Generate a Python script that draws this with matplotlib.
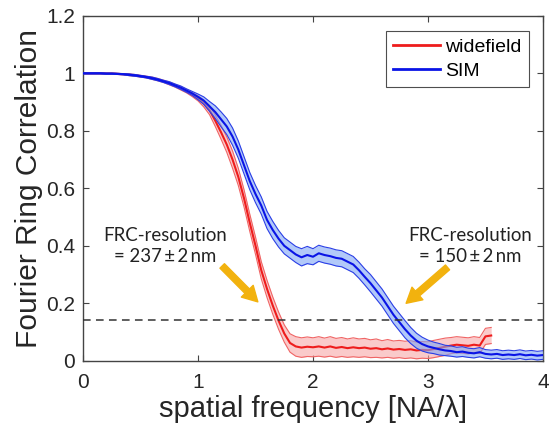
import numpy as np
import matplotlib
matplotlib.use("Agg")
import matplotlib.pyplot as plt

plt.rcParams['font.family'] = ['Liberation Sans', 'DejaVu Sans']

# spatial frequency sampling [NA/lambda]
freq_sim = np.linspace(0, 4.0, 81)
freq_wf = freq_sim[:72]  # widefield curve ends at 3.55

wf_mean = [1.000, 1.000, 1.000, 1.000, 0.999, 0.999, 0.998, 0.997, 0.995, 0.993,
           0.990, 0.987, 0.983, 0.978, 0.972, 0.965, 0.957, 0.948, 0.938, 0.926,
           0.913, 0.895, 0.872, 0.835, 0.795, 0.752, 0.700, 0.640, 0.565, 0.480,
           0.400, 0.315, 0.250, 0.192, 0.140, 0.095, 0.062, 0.050, 0.046, 0.049,
           0.047, 0.050, 0.046, 0.050, 0.045, 0.048, 0.044, 0.047, 0.044, 0.046,
           0.042, 0.044, 0.040, 0.043, 0.039, 0.041, 0.038, 0.040, 0.036, 0.038,
           0.037, 0.041, 0.045, 0.049, 0.053, 0.056, 0.054, 0.052, 0.056, 0.053,
           0.085, 0.088]
wf_hw = [0.002, 0.002, 0.002, 0.002, 0.002, 0.002, 0.002, 0.002, 0.003, 0.003,
         0.003, 0.003, 0.004, 0.004, 0.004, 0.005, 0.005, 0.006, 0.006, 0.007,
         0.009, 0.012, 0.016, 0.020, 0.024, 0.027, 0.030, 0.030, 0.030, 0.030,
         0.030, 0.030, 0.030, 0.030, 0.030, 0.030, 0.032, 0.034, 0.034, 0.034,
         0.033, 0.034, 0.033, 0.034, 0.033, 0.033, 0.032, 0.033, 0.032, 0.032,
         0.031, 0.032, 0.030, 0.031, 0.030, 0.030, 0.030, 0.030, 0.029, 0.029,
         0.029, 0.030, 0.030, 0.030, 0.028, 0.028, 0.028, 0.028, 0.028, 0.028,
         0.028, 0.028]

sim_mean = [1.000, 1.000, 1.000, 1.000, 0.999, 0.999, 0.998, 0.997, 0.995, 0.993,
            0.990, 0.987, 0.983, 0.978, 0.972, 0.966, 0.958, 0.950, 0.940, 0.930,
            0.918, 0.905, 0.885, 0.865, 0.840, 0.815, 0.780, 0.735, 0.680, 0.625,
            0.580, 0.540, 0.490, 0.455, 0.425, 0.400, 0.385, 0.370, 0.360, 0.368,
            0.362, 0.374, 0.368, 0.364, 0.358, 0.355, 0.345, 0.335, 0.315, 0.292,
            0.270, 0.245, 0.220, 0.190, 0.160, 0.135, 0.110, 0.088, 0.070, 0.058,
            0.050, 0.045, 0.040, 0.036, 0.034, 0.030, 0.032, 0.028, 0.026, 0.030,
            0.024, 0.022, 0.024, 0.020, 0.022, 0.020, 0.023, 0.019, 0.021, 0.018,
            0.020]
sim_hw = [0.002, 0.002, 0.002, 0.002, 0.002, 0.002, 0.002, 0.002, 0.003, 0.003,
          0.003, 0.003, 0.004, 0.004, 0.004, 0.005, 0.005, 0.006, 0.006, 0.007,
          0.010, 0.013, 0.017, 0.022, 0.026, 0.028, 0.030, 0.030, 0.030, 0.030,
          0.030, 0.030, 0.030, 0.030, 0.029, 0.028, 0.028, 0.028, 0.030, 0.030,
          0.028, 0.028, 0.028, 0.028, 0.028, 0.028, 0.028, 0.028, 0.028, 0.028,
          0.030, 0.030, 0.030, 0.030, 0.030, 0.030, 0.030, 0.028, 0.026, 0.024,
          0.022, 0.020, 0.020, 0.018, 0.018, 0.017, 0.017, 0.016, 0.016, 0.016,
          0.015, 0.015, 0.015, 0.015, 0.015, 0.015, 0.015, 0.015, 0.015, 0.015,
          0.015]

threshold = 1 / 7
wf_label = "FRC-resolution\n= 237\u2009±\u20092\u2009nm"
sim_label = "FRC-resolution\n= 150\u2009±\u20092\u2009nm"

fig = plt.figure(figsize=(5.54, 4.28), dpi=100)
ax = fig.add_axes([0.150, 0.157, 0.830, 0.806])

def band(x, m, h, line_c, edge_c, fill_c, label, z):
    m = np.asarray(m); h = np.asarray(h)
    lo = np.clip(m - h, 0.003, None); hi = m + h
    ax.fill_between(x, lo, hi, color=fill_c, alpha=0.6, lw=0, zorder=z)
    ax.plot(x, lo, color=edge_c, lw=0.8, zorder=z + 0.1)
    ax.plot(x, hi, color=edge_c, lw=0.8, zorder=z + 0.1)
    ax.plot(x, m, color=line_c, lw=1.5, label=label, zorder=z + 0.2)

band(freq_wf, wf_mean, wf_hw, '#ee1c1c', '#f06464', '#f7a8a8', 'widefield', 2)
band(freq_sim, sim_mean, sim_hw, '#0a14e6', '#2a3ee6', '#7fa6f5', 'SIM', 3)

ax.axhline(threshold, color='#333333', lw=1.1, ls=(0, (5, 3.5)), zorder=5)

ax.set_xlim(0, 4)
ax.set_ylim(0, 1.2)
ax.set_xticks([0, 1, 2, 3, 4])
ax.set_yticks([0, 0.2, 0.4, 0.6, 0.8, 1.0, 1.2])
ax.set_yticklabels(['0', '0.2', '0.4', '0.6', '0.8', '1', '1.2'])
ax.tick_params(direction='in', top=True, right=True, length=4, labelsize=15,
               color='#444444', labelcolor='#262626')
ax.tick_params(axis='x', pad=9)
ax.tick_params(axis='y', pad=6)
for s in ax.spines.values():
    s.set_color('#444444'); s.set_linewidth(1.0)

ax.set_xlabel('spatial frequency [NA/λ]', fontsize=21, color='#262626', labelpad=2)
ax.set_ylabel('Fourier Ring Correlation', fontsize=21.5, color='#262626', labelpad=2)

leg = ax.legend(loc='upper right', bbox_to_anchor=(0.970, 0.957), fontsize=14,
                frameon=True, fancybox=False, edgecolor='#222222',
                handlelength=2.4, handletextpad=0.25, borderpad=0.4,
                labelspacing=0.3, borderaxespad=0)
leg.get_frame().set_linewidth(0.8)
for lh in leg.get_lines():
    lh.set_linewidth(2.0)

arrow_c = '#f2b20e'
ax.text(0.715, 0.40, wf_label, ha='center', va='center', fontsize=13.4,
        family=['Lato', 'DejaVu Sans'], color='#222222', linespacing=1.3, zorder=6)
ax.text(3.37, 0.40, sim_label, ha='center', va='center', fontsize=13.4,
        family=['Lato', 'DejaVu Sans'], color='#222222', linespacing=1.3, zorder=6)
aprops = dict(arrowstyle='simple,head_width=1.0,head_length=0.9,tail_width=0.38',
              color=arrow_c, mutation_scale=12, shrinkA=0, shrinkB=0)
ax.annotate('', xy=(1.52, 0.205), xytext=(1.21, 0.33), arrowprops=aprops, zorder=7)
ax.annotate('', xy=(2.81, 0.20), xytext=(3.17, 0.325), arrowprops=aprops, zorder=7)

fig.savefig('out.png', dpi=100)
